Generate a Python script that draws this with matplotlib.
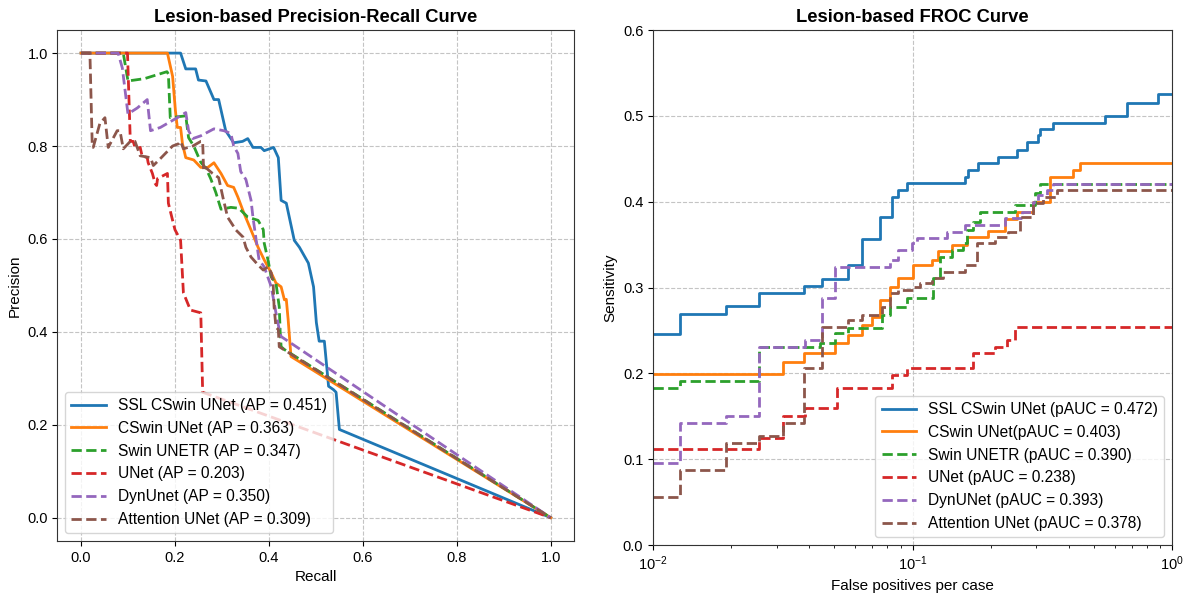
import numpy as np
import matplotlib
matplotlib.use('Agg')
import matplotlib.pyplot as plt

plt.rcParams['font.family'] = ['Liberation Sans', 'DejaVu Sans']

# ---------- PR curve data (recall, precision) ----------
names_pr = ['SSL CSwin UNet (AP = 0.451)', 'CSwin UNet (AP = 0.363)', 'Swin UNETR (AP = 0.347)',
            'UNet (AP = 0.203)', 'DynUnet (AP = 0.350)', 'Attention UNet (AP = 0.309)']

ssl_r = [0, 0.212, 0.223, 0.244, 0.25, 0.266, 0.283, 0.293, 0.308, 0.325, 0.344, 0.355, 0.366, 0.383,
         0.39, 0.41, 0.42, 0.426, 0.437, 0.454, 0.465, 0.484, 0.495, 0.501, 0.507, 0.518, 0.527, 0.537,
         0.543, 0.55, 1.0]
ssl_p = [1.0, 1.0, 0.966, 0.966, 0.942, 0.94, 0.90, 0.90, 0.833, 0.807, 0.81, 0.816, 0.797, 0.797,
         0.79, 0.797, 0.775, 0.683, 0.677, 0.597, 0.582, 0.548, 0.497, 0.42, 0.38, 0.38, 0.283, 0.276,
         0.27, 0.19, 0.0]

csw_r = [0, 0.184, 0.195, 0.201, 0.205, 0.212, 0.216, 0.223, 0.24, 0.255, 0.27, 0.283, 0.298, 0.312,
         0.325, 0.334, 0.347, 0.362, 0.377, 0.39, 0.405, 0.415, 0.426, 0.433, 0.437, 0.441, 0.447, 1.0]
csw_p = [1.0, 1.0, 0.95, 0.876, 0.84, 0.84, 0.805, 0.775, 0.77, 0.754, 0.754, 0.764, 0.741, 0.715,
         0.711, 0.69, 0.655, 0.619, 0.582, 0.555, 0.527, 0.505, 0.497, 0.469, 0.47, 0.426, 0.347, 0.0]

swu_r = [0, 0.09, 0.1, 0.135, 0.183, 0.186, 0.19, 0.223, 0.229, 0.24, 0.255, 0.266, 0.276, 0.287,
         0.298, 0.319, 0.336, 0.355, 0.377, 0.388, 0.39, 0.398, 0.405, 0.415, 0.422, 0.424, 0.426,
         0.433, 1.0]
swu_p = [1.0, 1.0, 0.94, 0.945, 0.96, 0.955, 0.861, 0.865, 0.818, 0.80, 0.765, 0.752, 0.73, 0.70,
         0.664, 0.668, 0.666, 0.647, 0.64, 0.62, 0.591, 0.555, 0.518, 0.505, 0.454, 0.40, 0.368,
         0.362, 0.0]

unet_r = [0, 0.099, 0.105, 0.111, 0.116, 0.126, 0.13, 0.141, 0.143, 0.152, 0.158, 0.161, 0.163,
          0.184, 0.186, 0.195, 0.2, 0.212, 0.218, 0.233, 0.255, 0.259, 1.0]
unet_p = [1.0, 1.0, 0.81, 0.81, 0.794, 0.797, 0.779, 0.775, 0.764, 0.741, 0.719, 0.715, 0.73,
          0.741, 0.677, 0.64, 0.62, 0.597, 0.484, 0.447, 0.441, 0.27, 0.0]

dyn_r = [0, 0.079, 0.088, 0.1, 0.12, 0.141, 0.148, 0.169, 0.205, 0.223, 0.229, 0.238, 0.255, 0.283,
         0.304, 0.319, 0.325, 0.334, 0.34, 0.351, 0.362, 0.366, 0.373, 0.379, 0.39, 0.405, 0.415,
         0.422, 0.426, 1.0]
dyn_p = [1.0, 1.0, 0.968, 0.869, 0.882, 0.9, 0.833, 0.84, 0.861, 0.872, 0.833, 0.816, 0.822, 0.837,
         0.833, 0.827, 0.80, 0.784, 0.745, 0.728, 0.683, 0.647, 0.597, 0.555, 0.54, 0.497, 0.441,
         0.405, 0.39, 0.0]

att_r = [0, 0.019, 0.024, 0.026, 0.04, 0.051, 0.058, 0.077, 0.083, 0.09, 0.105, 0.115, 0.126, 0.148,
         0.154, 0.169, 0.195, 0.208, 0.212, 0.218, 0.238, 0.255, 0.259, 0.261, 0.265, 0.28, 0.293,
         0.302, 0.312, 0.33, 0.345, 0.351, 0.362, 0.377, 0.388, 0.398, 0.405, 0.409, 0.411, 0.415,
         0.42, 0.422, 1.0]
att_p = [1.0, 1.0, 0.80, 0.797, 0.848, 0.861, 0.797, 0.833, 0.833, 0.794, 0.81, 0.81, 0.779, 0.775,
         0.758, 0.773, 0.80, 0.805, 0.81, 0.794, 0.80, 0.81, 0.81, 0.747, 0.754, 0.741, 0.732,
         0.69, 0.647, 0.619, 0.604, 0.582, 0.561, 0.544, 0.533, 0.54, 0.527, 0.505, 0.454, 0.41,
         0.405, 0.368, 0.0]

# ---------- FROC data (false positives per case, sensitivity) ----------
names_froc = ['SSL CSwin UNet (pAUC = 0.472)', 'CSwin UNet(pAUC = 0.403)', 'Swin UNETR (pAUC = 0.390)',
              'UNet (pAUC = 0.238)', 'DynUNet (pAUC = 0.393)', 'Attention UNet (pAUC = 0.378)']

ssl_fp = [0.01, 0.0127, 0.0191, 0.0255, 0.038, 0.0447, 0.0566, 0.0637, 0.0749, 0.0831, 0.0882, 0.095,
          0.1593, 0.164, 0.1794, 0.2141, 0.252, 0.2753, 0.3052, 0.31, 0.3488, 0.5518, 0.669, 0.886, 1.0]
ssl_s = [0.246, 0.269, 0.278, 0.294, 0.302, 0.31, 0.326, 0.357, 0.382, 0.406, 0.414, 0.4215,
         0.4293, 0.437, 0.445, 0.4526, 0.4604, 0.47, 0.478, 0.4845, 0.4922, 0.5, 0.5155, 0.5253, 0.5253]

csw_fp = [0.01, 0.0318, 0.038, 0.0503, 0.0566, 0.0637, 0.0696, 0.0749, 0.0819, 0.0882, 0.1007, 0.1186,
          0.1258, 0.1416, 0.1617, 0.196, 0.2273, 0.252, 0.292, 0.3387, 0.4166, 0.4418, 1.0]
csw_s = [0.199, 0.2137, 0.2234, 0.235, 0.2448, 0.2564, 0.266, 0.2855, 0.301, 0.311, 0.3263, 0.332,
         0.342, 0.35, 0.359, 0.3663, 0.3796, 0.3885, 0.40, 0.4293, 0.437, 0.445, 0.445]

swu_fp = [0.01, 0.0127, 0.0255, 0.044, 0.0503, 0.0566, 0.076, 0.0819, 0.095, 0.1203, 0.1276, 0.1416,
          0.157, 0.1617, 0.1715, 0.182, 0.248, 0.2964, 0.31, 1.0]
swu_s = [0.1826, 0.1911, 0.231, 0.235, 0.2467, 0.2525, 0.268, 0.2778, 0.2875, 0.311, 0.336, 0.344,
         0.3516, 0.367, 0.3768, 0.3885, 0.396, 0.41, 0.421, 0.421]

unet_fp = [0.01, 0.0255, 0.0318, 0.0385, 0.051, 0.0831, 0.095, 0.1715, 0.208, 0.2307, 0.248, 1.0]
unet_s = [0.1119, 0.1243, 0.1503, 0.1593, 0.1826, 0.198, 0.206, 0.2234, 0.2311, 0.239, 0.2545, 0.2545]

dyn_fp = [0.01, 0.0127, 0.0191, 0.0255, 0.0385, 0.0447, 0.0503, 0.0819, 0.0882, 0.0993, 0.1039,
          0.1354, 0.1593, 0.2273, 0.2634, 0.292, 0.3052, 0.329, 0.3488, 1.0]
dyn_s = [0.096, 0.1426, 0.1503, 0.231, 0.239, 0.2875, 0.3244, 0.332, 0.344, 0.3516, 0.3574,
         0.365, 0.373, 0.3807, 0.3885, 0.40, 0.408, 0.4138, 0.421, 0.421]

att_fp = [0.01, 0.0127, 0.0191, 0.0255, 0.0318, 0.038, 0.0447, 0.0566, 0.0637, 0.076, 0.0819, 0.0875,
          0.1007, 0.107, 0.1186, 0.1314, 0.1593, 0.1767, 0.208, 0.234, 0.2596, 0.292, 0.3193, 0.3593, 1.0]
att_s = [0.0563, 0.0874, 0.1193, 0.127, 0.1426, 0.206, 0.2545, 0.2622, 0.268, 0.2778, 0.2933, 0.297,
         0.301, 0.305, 0.311, 0.3186, 0.3263, 0.3516, 0.359, 0.365, 0.3826, 0.398, 0.406, 0.4138, 0.4138]

colors = ['#1f77b4', '#ff7f0e', '#2ca02c', '#d62728', '#9467bd', '#8c564b']
styles = ['-', '-', '--', '--', '--', '--']

pr_data = [(ssl_r, ssl_p), (csw_r, csw_p), (swu_r, swu_p), (unet_r, unet_p), (dyn_r, dyn_p), (att_r, att_p)]
froc_data = [(ssl_fp, ssl_s), (csw_fp, csw_s), (swu_fp, swu_s), (unet_fp, unet_s), (dyn_fp, dyn_s), (att_fp, att_s)]

fig = plt.figure(figsize=(11.88, 5.95), dpi=100)
ax1 = fig.add_axes([0.0484, 0.0908, 0.435, 0.859])
ax2 = fig.add_axes([0.5497, 0.084, 0.4369, 0.8655])

grid_kw = dict(ls='--', color='#c4c4c4', lw=0.8)

# ---------- left: PR ----------
for (r, p), lab, c, ls in zip(pr_data, names_pr, colors, styles):
    ax1.plot(r, p, color=c, ls=ls, lw=2, label=lab)
ax1.set_xlim(-0.05, 1.05); ax1.set_ylim(-0.05, 1.05)
ax1.set_xticks(np.arange(0, 1.01, 0.2)); ax1.set_yticks(np.arange(0, 1.01, 0.2))
ax1.grid(True, **grid_kw)
ax1.set_xlabel('Recall', fontsize=11)
ax1.set_ylabel('Precision', fontsize=11)
ax1.set_title('Lesion-based Precision-Recall Curve', fontsize=13.2, fontweight='bold')
ax1.tick_params(labelsize=10.5)
ax1.legend(loc='lower left', fontsize=11.2, handlelength=2.2)

# ---------- right: FROC ----------
for (f, s), lab, c, ls in zip(froc_data, names_froc, colors, styles):
    ax2.step(f, s, where='post', color=c, ls=ls, lw=2, label=lab)
ax2.set_xscale('log')
ax2.set_xlim(0.01, 1.0); ax2.set_ylim(0, 0.6)
ax2.grid(True, which='major', **grid_kw)
ax2.set_xlabel('False positives per case', fontsize=11)
ax2.set_ylabel('Sensitivity', fontsize=11)
ax2.set_title('Lesion-based FROC Curve', fontsize=13.2, fontweight='bold')
ax2.tick_params(labelsize=10.5)
ax2.legend(loc='lower right', fontsize=11.2, handlelength=2.2)

for ax in (ax1, ax2):
    for sp in ax.spines.values():
        sp.set_color('#333333')

fig.savefig('out.png', dpi=100)
